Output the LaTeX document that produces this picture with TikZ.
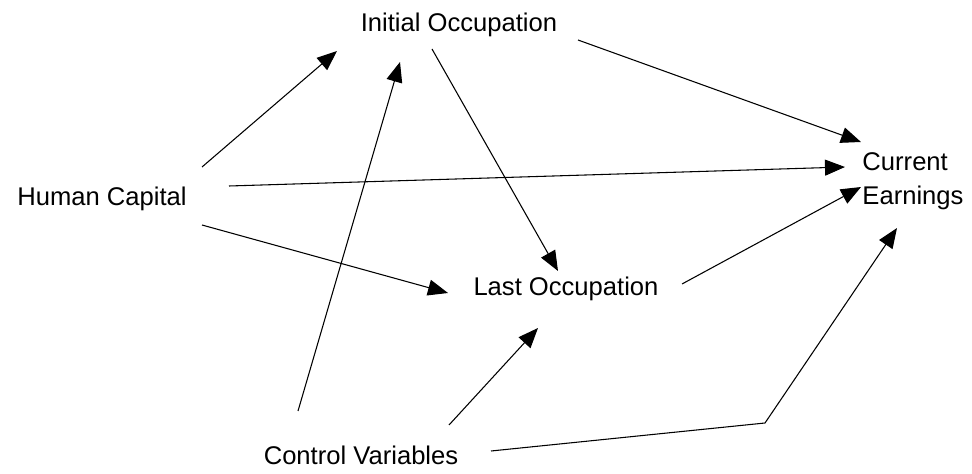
\documentclass[tikz,border=0pt]{standalone}
\usepackage{fontspec}
\setmainfont{Liberation Sans}
\usetikzlibrary{positioning, calc, arrows.meta}

\tikzset{
    var/.style={font=\fontsize{19.2}{25.5}\selectfont, inner sep=0pt, align=left},
    link/.style={-{Triangle[length=15pt, width=12pt]}, line width=0.8pt}
}

\begin{document}
\begin{tikzpicture}[x=0.75pt, y=-0.75pt]

    \useasboundingbox (0,0) rectangle (972,474);

    % ================= Variables =================
    \node[var] (io) at (459,25)  {Initial Occupation};
    \node[var] (hc) at (102,199) {Human Capital};
    \node[var] (ce) at (913,181) {Current\\Earnings};
    \node[var] (lo) at (566,289) {Last Occupation};
    \node[var] (cv) at (361,455) {Control Variables};

    % ================= Paths from Human Capital =================
    \draw[link] ($(hc)+(100,-32)$) -- ($(io)+(-122,26)$);
    \draw[link] ($(hc)+(127,-13)$) -- ($(ce)+(-68,-14)$);
    \draw[link] ($(hc)+(100,26)$)  -- ($(lo)+(-118,4)$);

    % ================= Paths from Initial Occupation =================
    \draw[link] ($(io)+(119,15)$) -- ($(ce)+(-52,-39)$);
    \draw[link] ($(io)+(-27,24)$) -- ($(lo)+(-8,-18)$);

    % ================= Path from Last Occupation =================
    \draw[link] ($(lo)+(116,-5)$) -- ($(ce)+(-52,6)$);

    % ================= Paths from Control Variables =================
    \draw[link] ($(cv)+(-63,-44)$) -- ($(io)+(-59,37)$);
    \draw[link] ($(cv)+(88,-30)$)  -- ($(lo)+(-28,39)$);
    \coordinate (bend) at (765,423);
    \draw[link] ($(cv)+(130,-4)$) -- (bend) -- ($(ce)+(-16,47)$);

\end{tikzpicture}
\end{document}
